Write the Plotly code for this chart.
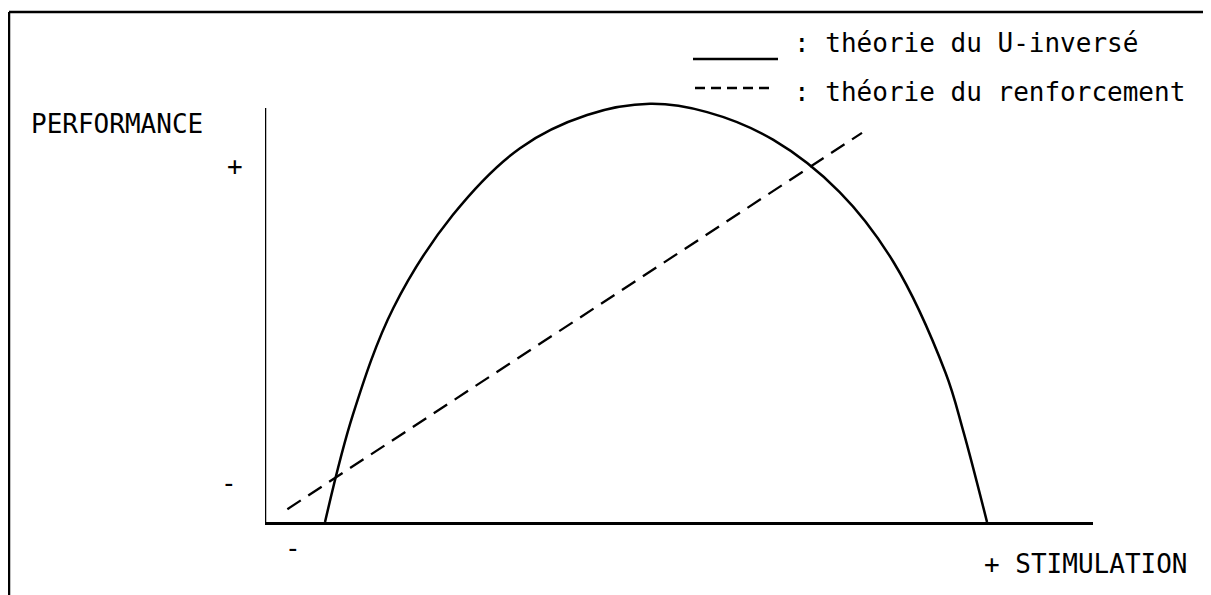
import plotly.graph_objects as go

# Data, stimulation 0..100, performance 0..100
u_x = [7.25, 10.6, 15.5, 22.7, 30.8, 38.9, 46.5, 53.4, 61.4, 69.4, 75.9, 82.2, 84.3, 87.2]
u_y = [0.0, 25.8, 51.7, 74.2, 90.3, 98.3, 101.0, 99.0, 92.3, 79.7, 62.8, 36.0, 22.2, 0.0]

r_x = [2.7, 72.1]
r_y = [3.1, 94.0]

legend_labels = [": théorie du U-inversé", ": théorie du renforcement"]
y_title = "PERFORMANCE"
x_title = "+ STIMULATION"

FONT = "DejaVu Sans Mono"
FS = 26

# layout geometry (page has an 8px body margin)
OFF = 8
PX_L, PX_R, PX_B = 265, 1093, 522
UNIT = 4.14               # pixels per performance unit
PLOT_H = 431
Y_TOP = PLOT_H / UNIT
W, H = 1203, 587
m_l = PX_L - OFF
m_r = W - m_l - (PX_R - PX_L)
m_t = PX_B - OFF - PLOT_H
m_b = H - m_t - PLOT_H

def px(x):
    return (x - PX_L) / (PX_R - PX_L)

def py(y):
    return (PX_B - y) / PLOT_H

fig = go.Figure()
fig.add_trace(go.Scatter(x=u_x, y=u_y, mode="lines",
                         line=dict(color="black", width=2.5, shape="spline", smoothing=1.0),
                         showlegend=False, hoverinfo="skip"))
fig.add_trace(go.Scatter(x=r_x, y=r_y, mode="lines",
                         line=dict(color="black", width=2.3, dash="16px,9px"),
                         showlegend=False, hoverinfo="skip"))

fig.update_layout(
    width=W, height=H,
    margin=dict(l=m_l, r=m_r, t=m_t, b=m_b, pad=0),
    paper_bgcolor="white", plot_bgcolor="white",
    xaxis=dict(range=[0, 100], showline=True, linecolor="black", linewidth=2.5,
               showgrid=False, zeroline=False, showticklabels=False, ticks=""),
    yaxis=dict(range=[0, Y_TOP], showline=False,
               showgrid=False, zeroline=False, showticklabels=False, ticks=""),
    font=dict(family=FONT, color="black", size=FS),
)

# y axis line up to performance 100
fig.add_shape(type="line", xref="x", yref="y", x0=0, x1=0, y0=0, y1=100,
              line=dict(color="black", width=2.5))

def ann(text, x, y, xanchor="left"):
    fig.add_annotation(text=text, xref="paper", yref="paper", x=px(x), y=py(y),
                       xanchor=xanchor, yanchor="middle", showarrow=False,
                       font=dict(family=FONT, size=FS, color="black"))

ann(legend_labels[0], 792, 43)
ann(legend_labels[1], 792, 92)
ann(y_title, 29, 124)
ann("+", 235, 166, "center")
ann("-", 229, 483, "center")
ann("-", 293, 548, "center")
ann(x_title, 982, 564)

# legend keys
fig.add_shape(type="line", xref="paper", yref="paper", x0=px(693), x1=px(778), y0=py(59), y1=py(59),
              line=dict(color="black", width=2.5))
fig.add_shape(type="line", xref="paper", yref="paper", x0=px(695), x1=px(773), y0=py(88), y1=py(88),
              line=dict(color="black", width=2.3, dash="10px,6px"))

# frame (top and left border)
fig.add_shape(type="line", xref="paper", yref="paper", x0=px(9), x1=px(9), y0=py(600), y1=py(12),
              line=dict(color="black", width=2.5))
fig.add_shape(type="line", xref="paper", yref="paper", x0=px(9), x1=px(1215), y0=py(12), y1=py(12),
              line=dict(color="black", width=2.5))

fig.write_html("out.html")
